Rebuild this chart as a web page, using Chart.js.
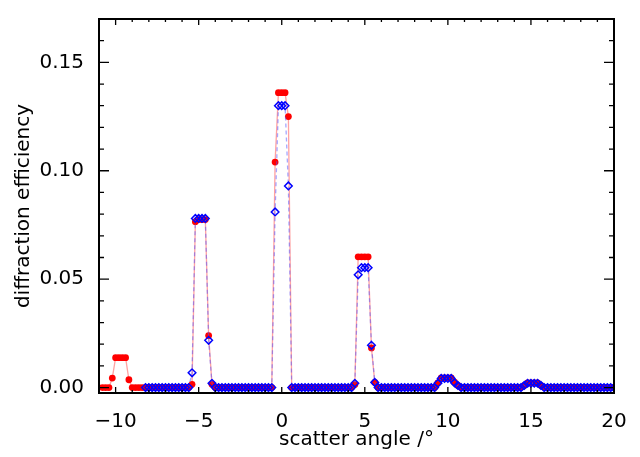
<!DOCTYPE html>
<html>
<head>
<meta charset="utf-8">
<script src="https://cdn.jsdelivr.net/npm/chart.js@4.4.1/dist/chart.umd.min.js"></script>
<style>
  body { margin: 0; background: #fff; }
</style>
</head>
<body>
<canvas id="js-chart" width="640" height="457"></canvas>
<script>
// scatter angle in degrees
const angles = [
  -10.8, -10.6, -10.4, -10.2, -10.0, -9.8, -9.6, -9.4, -9.2, -9.0,
  -8.8, -8.6, -8.4, -8.2, -8.0, -7.8, -7.6, -7.4, -7.2, -7.0,
  -6.8, -6.6, -6.4, -6.2, -6.0, -5.8, -5.6, -5.4, -5.2, -5.0,
  -4.8, -4.6, -4.4, -4.2, -4.0, -3.8, -3.6, -3.4, -3.2, -3.0,
  -2.8, -2.6, -2.4, -2.2, -2.0, -1.8, -1.6, -1.4, -1.2, -1.0,
  -0.8, -0.6, -0.4, -0.2, 0.0, 0.2, 0.4, 0.6, 0.8, 1.0,
  1.2, 1.4, 1.6, 1.8, 2.0, 2.2, 2.4, 2.6, 2.8, 3.0,
  3.2, 3.4, 3.6, 3.8, 4.0, 4.2, 4.4, 4.6, 4.8, 5.0,
  5.2, 5.4, 5.6, 5.8, 6.0, 6.2, 6.4, 6.6, 6.8, 7.0,
  7.2, 7.4, 7.6, 7.8, 8.0, 8.2, 8.4, 8.6, 8.8, 9.0,
  9.2, 9.4, 9.6, 9.8, 10.0, 10.2, 10.4, 10.6, 10.8, 11.0,
  11.2, 11.4, 11.6, 11.8, 12.0, 12.2, 12.4, 12.6, 12.8, 13.0,
  13.2, 13.4, 13.6, 13.8, 14.0, 14.2, 14.4, 14.6, 14.8, 15.0,
  15.2, 15.4, 15.6, 15.8, 16.0, 16.2, 16.4, 16.6, 16.8, 17.0,
  17.2, 17.4, 17.6, 17.8, 18.0, 18.2, 18.4, 18.6, 18.8, 19.0,
  19.2, 19.4, 19.6, 19.8, 20.0
]

// red filled circles
const redEff = [
  0, 0, 0, 0.0044, 0.0138, 0.0138, 0.0138, 0.0138, 0.0036, 0,
  0, 0, 0, 0, 0, 0, 0, 0, 0, 0,
  0, 0, 0, 0, 0, 0, 0, 0.0015, 0.0765, 0.0775,
  0.0775, 0.0775, 0.024, 0.0015, 0, 0, 0, 0, 0, 0,
  0, 0, 0, 0, 0, 0, 0, 0, 0, 0,
  0, 0, 0.104, 0.136, 0.136, 0.136, 0.125, 0, 0, 0,
  0, 0, 0, 0, 0, 0, 0, 0, 0, 0,
  0, 0, 0, 0, 0, 0, 0.0014, 0.0603, 0.0603, 0.0603,
  0.0603, 0.0183, 0.0024, 0, 0, 0, 0, 0, 0, 0,
  0, 0, 0, 0, 0, 0, 0, 0, 0, 0,
  0, 0.0022, 0.0045, 0.0045, 0.0045, 0.0045, 0.0025, 0.001, 0, 0,
  0, 0, 0, 0, 0, 0, 0, 0, 0, 0,
  0, 0, 0, 0, 0, 0, 0, 0.001, 0.0022, 0.0022,
  0.0022, 0.0022, 0.001, 0, 0, 0, 0, 0, 0, 0,
  0, 0, 0, 0, 0, 0, 0, 0, 0, 0,
  0, 0, 0, 0, 0
]

// blue open diamonds (starts at -8.2)
const blueEff = [
  null, null, null, null, null, null, null, null, null, null,
  null, null, null, 0, 0, 0, 0, 0, 0, 0,
  0, 0, 0, 0, 0, 0, 0, 0.0068, 0.078, 0.078,
  0.078, 0.078, 0.0218, 0.002, 0, 0, 0, 0, 0, 0,
  0, 0, 0, 0, 0, 0, 0, 0, 0, 0,
  0, 0, 0.081, 0.130, 0.130, 0.130, 0.093, 0, 0, 0,
  0, 0, 0, 0, 0, 0, 0, 0, 0, 0,
  0, 0, 0, 0, 0, 0, 0.002, 0.052, 0.0553, 0.0553,
  0.0553, 0.0195, 0.0024, 0, 0, 0, 0, 0, 0, 0,
  0, 0, 0, 0, 0, 0, 0, 0, 0, 0,
  0, 0.002, 0.0042, 0.0042, 0.0042, 0.0042, 0.0022, 0.001, 0, 0,
  0, 0, 0, 0, 0, 0, 0, 0, 0, 0,
  0, 0, 0, 0, 0, 0, 0, 0.001, 0.002, 0.002,
  0.002, 0.002, 0.001, 0, 0, 0, 0, 0, 0, 0,
  0, 0, 0, 0, 0, 0, 0, 0, 0, 0,
  0, 0, 0, 0, 0
]

const xTicks = [-10, -5, 0, 5, 10, 15, 20]
const yTicks = [0, 0.05, 0.10, 0.15]

function toPoints(vals) {
  let pts = []
  vals.forEach((v, i) => {
    if (v !== null) pts.push({ x: angles[i], y: v })
  })
  return pts
}

// IDL-like box with inward ticks on all four sides
const frameTicks = {
  id: 'frameTicks',
  afterDatasetsDraw(chart) {
    const ctx = chart.ctx
    const a = chart.chartArea
    const x = chart.scales.x
    const y = chart.scales.y
    ctx.save()
    ctx.strokeStyle = '#000'
    ctx.lineWidth = 2
    ctx.strokeRect(a.left, a.top, a.right - a.left, a.bottom - a.top)
    ctx.lineWidth = 1.3
    ctx.beginPath()
    for (let k = -11; k <= 20; k++) {
      const px = x.getPixelForValue(k)
      const len = k % 5 === 0 ? 6 : 3
      ctx.moveTo(px, a.bottom); ctx.lineTo(px, a.bottom - len)
      ctx.moveTo(px, a.top); ctx.lineTo(px, a.top + len)
    }
    for (let k = 0; k <= 17; k++) {
      const py = y.getPixelForValue(k / 100)
      const len = k % 5 === 0 ? 10 : 5
      ctx.moveTo(a.left, py); ctx.lineTo(a.left + len, py)
      ctx.moveTo(a.right, py); ctx.lineTo(a.right - len, py)
    }
    ctx.stroke()
    ctx.restore()
  }
}

const fontFam = '"DejaVu Sans", sans-serif'

const chart = new Chart(document.getElementById('js-chart').getContext('2d'), {
  type: 'line',
  data: {
    datasets: [
      {
        label: 'blue',
        data: toPoints(blueEff),
        order: 0,
        borderColor: 'rgba(80, 80, 255, 0.5)',
        borderWidth: 1.3,
        borderDash: [4, 3],
        pointStyle: 'rectRot',
        pointRadius: 3.8,
        pointBorderColor: '#0000ff',
        pointBackgroundColor: 'rgba(255,255,255,0)',
        pointBorderWidth: 1.5,
        tension: 0
      },
      {
        label: 'red',
        data: toPoints(redEff),
        order: 1,
        borderColor: 'rgba(255, 70, 70, 0.5)',
        borderWidth: 1.3,
        pointStyle: 'circle',
        pointRadius: 3.4,
        pointBorderColor: '#ff0000',
        pointBackgroundColor: '#ff0000',
        pointBorderWidth: 0,
        tension: 0
      }
    ]
  },
  options: {
    responsive: false,
    animation: false,
    devicePixelRatio: 1,
    layout: { padding: { top: 12, right: 26, left: 0, bottom: 0 } },
    plugins: { legend: { display: false }, tooltip: { enabled: false } },
    scales: {
      x: {
        type: 'linear',
        min: -11,
        max: 20,
        afterBuildTicks: (s) => { s.ticks = xTicks.map(v => ({ value: v })) },
        afterFit: (s) => { s.height = 64 },
        grid: { display: false },
        border: { display: false },
        ticks: {
          color: '#000',
          padding: 9,
          maxRotation: 0,
          font: { family: fontFam, size: 20 },
          callback: (v) => String(v).replace('-', '\u2212')
        },
        title: {
          display: true,
          text: 'scatter angle /°',
          color: '#000',
          font: { family: fontFam, size: 20 },
          padding: { top: 0, bottom: 5 }
        }
      },
      y: {
        min: -0.0025,
        max: 0.17,
        afterBuildTicks: (s) => { s.ticks = yTicks.map(v => ({ value: v })) },
        afterFit: (s) => { s.width = 99 },
        grid: { display: false },
        border: { display: false },
        ticks: {
          color: '#000',
          padding: 7,
          font: { family: fontFam, size: 20 },
          callback: (v) => v.toFixed(2)
        },
        title: {
          display: true,
          text: 'diffraction efficiency',
          color: '#000',
          font: { family: fontFam, size: 20 },
          padding: { top: 12, bottom: 0 }
        }
      }
    }
  },
  plugins: [frameTicks]
})
</script>
</body>
</html>
